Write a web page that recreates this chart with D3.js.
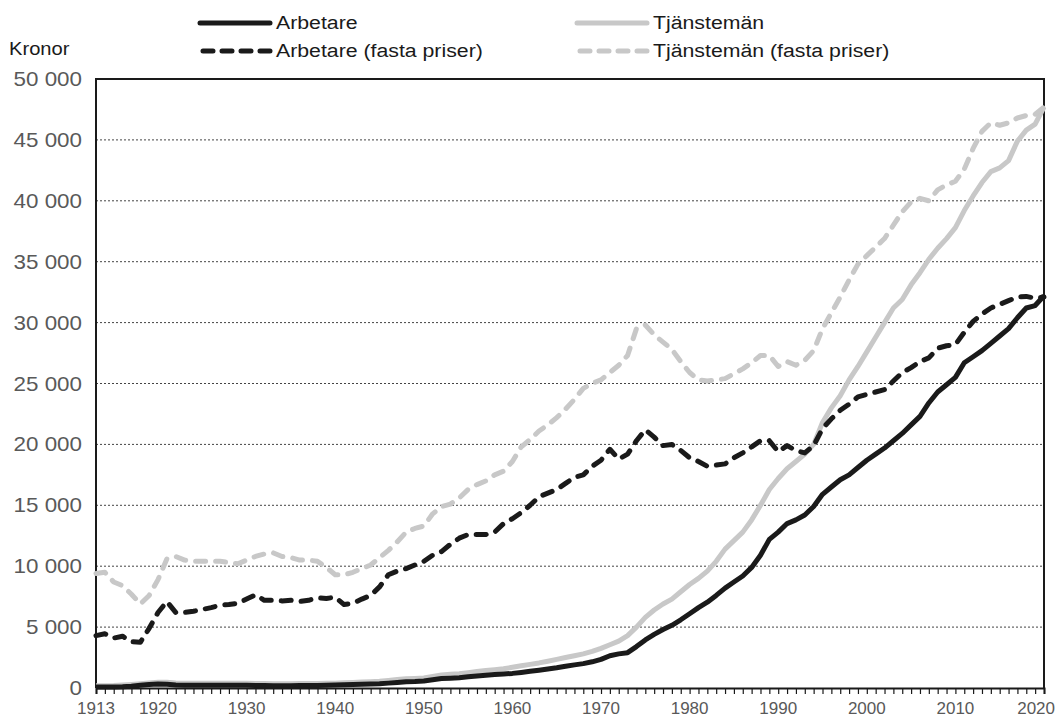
<!DOCTYPE html>
<html>
<head>
<meta charset="utf-8">
<script src="https://cdn.jsdelivr.net/npm/d3@7"></script>
<style>
  body { margin: 0; background: #fff; }
  svg { display: block; font-family: "Liberation Sans", Arial, sans-serif; }
</style>
</head>
<body>
<div id="chart"></div>
<script>
// Data, one value per year 1913-2020
const firstYear = 1913;
const lastYear = 2020;

const arbetare = [80, 80, 90, 110, 150, 220, 280, 320, 300, 240,
  220, 220, 220, 220, 220, 220, 220, 220, 210, 200,
  190, 190, 190, 200, 200, 210, 220, 240, 260, 280,
  300, 320, 350, 400, 460, 520, 540, 580, 680, 780,
  810, 850, 920, 990, 1050, 1100, 1150, 1200, 1280, 1370,
  1460, 1560, 1660, 1780, 1900, 2000, 2150, 2350, 2650, 2800,
  2900, 3400, 3950, 4400, 4800, 5150, 5600, 6100, 6600, 7050,
  7600, 8200, 8700, 9200, 9900, 10900, 12200, 12800, 13500, 13800,
  14200, 14900, 15900, 16500, 17100, 17500, 18100, 18700, 19200, 19700,
  20300, 20900, 21600, 22300, 23400, 24300, 24900, 25500, 26700, 27200,
  27700, 28300, 28900, 29500, 30400, 31200, 31400, 32200];

const tjansteman = [180, 180, 200, 240, 290, 350, 420, 470, 470, 420,
  390, 380, 380, 380, 380, 380, 380, 380, 370, 360,
  350, 350, 350, 360, 360, 370, 380, 400, 430, 460,
  490, 520, 560, 620, 690, 760, 790, 830, 950, 1070,
  1120, 1180, 1260, 1350, 1430, 1500, 1580, 1700, 1820, 1940,
  2060, 2200, 2350, 2500, 2650, 2800, 3000, 3250, 3550, 3850,
  4300, 5000, 5800, 6400, 6900, 7300, 7900, 8500, 9000, 9600,
  10400, 11400, 12100, 12800, 13800, 15000, 16300, 17200, 18000, 18600,
  19200, 20000, 21800, 23000, 24000, 25300, 26400, 27600, 28800, 30000,
  31200, 31900, 33100, 34100, 35200, 36100, 36900, 37800, 39200, 40400,
  41500, 42400, 42700, 43300, 44900, 45800, 46300, 47700];

const arbetareFasta = [4300, 4450, 4100, 4250, 3800, 3750, 4900, 6200, 7100, 6200,
  6200, 6300, 6450, 6600, 6800, 6850, 6950, 7300, 7650, 7200,
  7200, 7150, 7200, 7100, 7200, 7400, 7350, 7450, 6850, 6950,
  7300, 7600, 8300, 9300, 9600, 9800, 10100, 10400, 10900, 11200,
  11800, 12300, 12600, 12600, 12600, 12800, 13500, 13900, 14400, 15000,
  15700, 16000, 16300, 16800, 17300, 17500, 18200, 18700, 19600, 18800,
  19200, 20300, 21200, 20600, 19900, 20000, 19500, 18900, 18600, 18200,
  18300, 18400, 18900, 19300, 19800, 20300, 20300, 19400, 19900, 19500,
  19300, 19900, 21300, 22100, 22800, 23300, 23900, 24100, 24300, 24500,
  25200, 25900, 26300, 26800, 27100, 27900, 28100, 28200, 29200, 30100,
  30700, 31200, 31500, 31800, 32100, 32150, 32000, 32100];

const tjanstemanFasta = [9400, 9500, 8700, 8400, 7700, 6900, 7600, 8900, 10600, 10800,
  10500, 10400, 10400, 10400, 10400, 10300, 10200, 10500, 10800, 11000,
  11100, 10800, 10700, 10500, 10500, 10400, 9900, 9300, 9300, 9500,
  9800, 10100, 10700, 11300, 12000, 12800, 13100, 13300, 14300, 14900,
  15100, 15600, 16300, 16700, 17000, 17500, 17800, 18600, 19800, 20400,
  21100, 21600, 22200, 22900, 23700, 24600, 25000, 25300, 25900, 26500,
  27300, 29500, 29800, 29000, 28400, 27800, 26800, 25900, 25300, 25200,
  25300, 25400, 25800, 26200, 26700, 27300, 27300, 26400, 26800, 26500,
  26900, 27700, 29500, 30800, 32100, 33500, 34800, 35500, 36200, 36900,
  38000, 39100, 39900, 40200, 40000, 40900, 41300, 41600, 42600, 44300,
  45700, 46400, 46200, 46400, 46800, 47000, 47100, 47700];

const yTicks = [0, 5000, 10000, 15000, 20000, 25000, 30000, 35000, 40000, 45000, 50000];
const xLabels = [1913, 1920, 1930, 1940, 1950, 1960, 1970, 1980, 1990, 2000, 2010, 2020];

const black = "#1a1a1a";
const grey = "#c8c8c8";
const labelGrey = "#595959";
const stretch = 1.12; // the source text is a little wider than plain Arial

const series = [
  { name: "Tjänstemän", values: tjansteman, color: grey, dashed: false },
  { name: "Tjänstemän (fasta priser)", values: tjanstemanFasta, color: grey, dashed: true },
  { name: "Arbetare", values: arbetare, color: black, dashed: false },
  { name: "Arbetare (fasta priser)", values: arbetareFasta, color: black, dashed: true }
];

const width = 1056, height = 720;
const plotLeft = 96, plotRight = 1044, plotTop = 79, plotBottom = 688;

const svg = d3.select("#chart").append("svg")
  .attr("width", width)
  .attr("height", height);

const x = d3.scaleLinear().domain([firstYear, lastYear]).range([plotLeft, plotRight]);
const y = d3.scaleLinear().domain([0, 50000]).range([plotBottom, plotTop]);

// Dotted gridlines
svg.append("g")
  .selectAll("line")
  .data(yTicks.filter(d => d > 0 && d < 50000))
  .join("line")
  .attr("x1", plotLeft).attr("x2", plotRight)
  .attr("y1", d => y(d)).attr("y2", d => y(d))
  .attr("stroke", "#444")
  .attr("stroke-width", 1)
  .attr("stroke-dasharray", "2,2");

// Y tick labels
const fmt = d => d3.format(",")(d).replace(/,/g, " ");
svg.append("g")
  .selectAll("text")
  .data(yTicks)
  .join("text")
  .attr("transform", d => `translate(82,${y(d) + 7}) scale(${stretch},1)`)
  .attr("text-anchor", "end")
  .attr("fill", labelGrey)
  .style("font-size", "20px")
  .text(fmt);

svg.append("text")
  .attr("transform", `translate(9,55) scale(${stretch},1)`)
  .attr("fill", black)
  .style("font-size", "18px")
  .text("Kronor");

// Bottom axis with a tick every year
const years = d3.range(firstYear, lastYear + 1);
const xAxis = d3.axisBottom(x)
  .tickValues(years)
  .tickSize(6)
  .tickFormat("");
const gx = svg.append("g")
  .attr("transform", `translate(0,${plotBottom})`)
  .call(xAxis);
gx.select(".domain").attr("stroke", black).attr("stroke-width", 2);
gx.selectAll(".tick line").attr("stroke", black).attr("stroke-width", 1.2);

svg.append("g")
  .selectAll("text")
  .data(xLabels)
  .join("text")
  .attr("x", d => d === lastYear ? width - 1 : x(d))
  .attr("y", 714)
  .attr("text-anchor", d => d === lastYear ? "end" : "middle")
  .attr("fill", labelGrey)
  .style("font-size", "17px")
  .text(d => d);

// Frame: left, top, right
svg.append("path")
  .attr("d", `M${plotLeft},${plotBottom}V${plotTop}H${plotRight}V${plotBottom}`)
  .attr("fill", "none")
  .attr("stroke", black)
  .attr("stroke-width", 2);

// Lines
const line = d3.line()
  .x((d, i) => x(firstYear + i))
  .y(d => y(d));

svg.append("g")
  .selectAll("path")
  .data(series)
  .join("path")
  .attr("d", d => line(d.values))
  .attr("fill", "none")
  .attr("stroke", d => d.color)
  .attr("stroke-width", 5)
  .attr("stroke-linejoin", "round")
  .attr("stroke-linecap", d => d.dashed ? "round" : "butt")
  .attr("stroke-dasharray", d => d.dashed ? "10,10" : null);

// Legend
const legend = [
  { name: "Arbetare", color: black, dashed: false, lx: 200, ly: 23 },
  { name: "Arbetare (fasta priser)", color: black, dashed: true, lx: 200, ly: 51 },
  { name: "Tjänstemän", color: grey, dashed: false, lx: 577, ly: 23 },
  { name: "Tjänstemän (fasta priser)", color: grey, dashed: true, lx: 577, ly: 51 }
];

const lg = svg.append("g")
  .selectAll("g")
  .data(legend)
  .join("g")
  .attr("transform", d => `translate(${d.lx},${d.ly})`);

lg.append("line")
  .attr("x1", d => d.dashed ? 3 : 0).attr("x2", 70)
  .attr("stroke", d => d.color)
  .attr("stroke-width", 5)
  .attr("stroke-linecap", "round")
  .attr("stroke-dasharray", d => d.dashed ? "10,9" : null);

lg.append("text")
  .attr("transform", `translate(76,6) scale(${stretch},1)`)
  .attr("fill", black)
  .style("font-size", "19px")
  .text(d => d.name);
</script>
</body>
</html>
